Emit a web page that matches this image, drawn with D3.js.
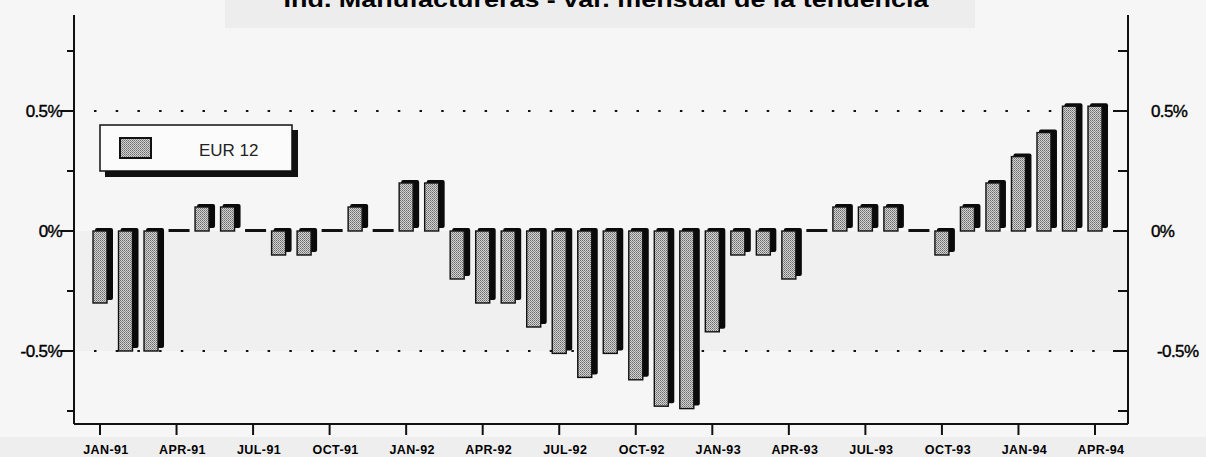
<!DOCTYPE html>
<html><head><meta charset="utf-8">
<script src="https://cdn.jsdelivr.net/npm/d3@7"></script>
<style>html,body{margin:0;padding:0;background:#f6f6f6;}svg{display:block;}</style>
</head><body>
<script>
const months = ["JAN-91","FEB-91","MAR-91","APR-91","MAY-91","JUN-91","JUL-91","AUG-91","SEP-91","OCT-91","NOV-91","DEC-91",
"JAN-92","FEB-92","MAR-92","APR-92","MAY-92","JUN-92","JUL-92","AUG-92","SEP-92","OCT-92","NOV-92","DEC-92",
"JAN-93","FEB-93","MAR-93","APR-93","MAY-93","JUN-93","JUL-93","AUG-93","SEP-93","OCT-93","NOV-93","DEC-93",
"JAN-94","FEB-94","MAR-94","APR-94"];
const eur12 = [-0.3,-0.5,-0.5,0,0.1,0.1,0,-0.1,-0.1,0,0.1,0,
0.2,0.2,-0.2,-0.3,-0.3,-0.4,-0.51,-0.61,-0.51,-0.62,-0.73,-0.74,
-0.42,-0.1,-0.1,-0.2,0,0.1,0.1,0.1,0,-0.1,0.1,0.2,
0.31,0.41,0.52,0.52];
const tickMonths = ["JAN-91","APR-91","JUL-91","OCT-91","JAN-92","APR-92","JUL-92","OCT-92","JAN-93","APR-93","JUL-93","OCT-93","JAN-94","APR-94"];
const majorTicks = [-0.5, 0, 0.5];
const majorLabels = ["-0.5%","0%","0.5%"];
const minorTicks = [-0.75,-0.25,0.25,0.75];
const gridValues = [-0.5, 0.5];
const seriesName = "EUR 12";
const title = "Ind. Manufactureras - var. mensual de la tendencia";

(function(){
const W = 1206, H = 457;
const svg = d3.select("body").append("svg").attr("width", W).attr("height", H);

const defs = svg.append("defs");
const pat = defs.append("pattern").attr("id","dots").attr("patternUnits","userSpaceOnUse")
  .attr("width",2).attr("height",2);
pat.append("rect").attr("width",2).attr("height",2).attr("fill","#d4d4d4");
pat.append("rect").attr("x",0).attr("y",0).attr("width",1).attr("height",1).attr("fill","#6a6a6a");
pat.append("rect").attr("x",1).attr("y",1).attr("width",1).attr("height",1).attr("fill","#8a8a8a");

svg.append("rect").attr("x",0).attr("y",0).attr("width",W).attr("height",H).attr("fill","#f6f6f6");
svg.append("rect").attr("x",225).attr("y",0).attr("width",750).attr("height",28).attr("fill","#ededed");
svg.append("rect").attr("x",0).attr("y",437).attr("width",W).attr("height",20).attr("fill","#eeeeee");

const pLeft = 74, pRight = 1128, pBottom = 424, pTop = 15;
const y = d3.scaleLinear().domain([-0.8, 0.8]).range([423, 39]);
const x = d3.scalePoint().domain(months).range([100, 1095]);

svg.append("rect").attr("x",pLeft).attr("y",y(0)).attr("width",pRight-pLeft).attr("height",y(-0.5)-y(0)).attr("fill","#f0f0f0");

svg.append("text").attr("x",606).attr("y",7).attr("text-anchor","middle")
  .attr("font-family","Liberation Sans, Arial, sans-serif").attr("font-weight","bold")
  .attr("font-size",22).attr("textLength",645).attr("lengthAdjust","spacingAndGlyphs")
  .attr("fill","#000").text(title);

svg.selectAll(".grid").data(gridValues).enter().append("line")
  .attr("x1",pLeft+20).attr("x2",pRight-10).attr("y1",d=>y(d)).attr("y2",d=>y(d))
  .attr("stroke","#111").attr("stroke-width",2).attr("stroke-dasharray","2.5,19.2");

const ax = svg.append("g").attr("stroke","#111").attr("stroke-width",2).attr("fill","none");
ax.append("line").attr("x1",pLeft).attr("x2",pLeft).attr("y1",pTop).attr("y2",pBottom);
ax.append("line").attr("x1",pRight).attr("x2",pRight).attr("y1",pTop).attr("y2",pBottom);
ax.append("line").attr("x1",pLeft).attr("x2",pRight).attr("y1",pBottom).attr("y2",pBottom);

majorTicks.forEach(v=>{
  ax.append("line").attr("x1",pLeft-13).attr("x2",pLeft).attr("y1",y(v)).attr("y2",y(v));
  ax.append("line").attr("x1",pRight-15).attr("x2",pRight).attr("y1",y(v)).attr("y2",y(v));
});
minorTicks.forEach(v=>{
  ax.append("line").attr("x1",pLeft-7).attr("x2",pLeft).attr("y1",y(v)).attr("y2",y(v));
  ax.append("line").attr("x1",pRight-10).attr("x2",pRight).attr("y1",y(v)).attr("y2",y(v));
});
tickMonths.forEach(m=>{
  ax.append("line").attr("x1",x(m)).attr("x2",x(m)).attr("y1",pBottom).attr("y2",pBottom+11);
});

const font = "Liberation Sans, Arial, sans-serif";
majorTicks.forEach((v,i)=>{
  svg.append("text").attr("x",62).attr("y",y(v)+6).attr("text-anchor","end")
    .attr("font-family",font).attr("font-size",17).attr("letter-spacing",-0.6)
    .attr("stroke","#000").attr("stroke-width",0.4).text(majorLabels[i]);
  svg.append("text").attr("x",v<0?1157:1151).attr("y",y(v)+6).attr("text-anchor","start")
    .attr("font-family",font).attr("font-size",17).attr("letter-spacing",-0.6)
    .attr("stroke","#000").attr("stroke-width",0.4).text(majorLabels[i]);
});
tickMonths.forEach(m=>{
  svg.append("text").attr("x",x(m)+6).attr("y",454).attr("text-anchor","middle")
    .attr("font-family",font).attr("font-weight","bold").attr("font-size",12.5)
    .attr("letter-spacing",0.4).text(m);
});

const bw = 14, depth = 6, up = 3;
const bars = svg.append("g");
months.forEach((m,i)=>{
  const v = eur12[i];
  const cx = x(m);
  const y0 = y(0), y1 = y(v);
  if (v === 0) {
    bars.append("rect").attr("x",cx-bw/2-1).attr("y",y0-2).attr("width",bw+depth+1).attr("height",3).attr("fill","#111");
    return;
  }
  const t = Math.min(y0,y1), h = Math.abs(y1-y0);
  bars.append("rect").attr("x",cx-bw/2+2).attr("y",t-up).attr("width",bw+depth-2).attr("height",h)
    .attr("rx",2).attr("fill","#0a0a0a");
  bars.append("rect").attr("x",cx-bw/2).attr("y",t).attr("width",bw).attr("height",h)
    .attr("fill","url(#dots)").attr("stroke","#111").attr("stroke-width",1.4);
});

const lg = svg.append("g");
lg.append("rect").attr("x",105).attr("y",130).attr("width",193).attr("height",47).attr("fill","#111");
lg.append("rect").attr("x",100).attr("y",125).attr("width",192).attr("height",46).attr("fill","#fbfbfb")
  .attr("stroke","#111").attr("stroke-width",1.5);
lg.append("rect").attr("x",120).attr("y",138).attr("width",31).attr("height",20).attr("fill","url(#dots)")
  .attr("stroke","#111").attr("stroke-width",2);
lg.append("text").attr("x",199).attr("y",156).attr("font-family",font).attr("font-size",17)
  .attr("fill","#222").text(seriesName);
})();
</script>
</body></html>
